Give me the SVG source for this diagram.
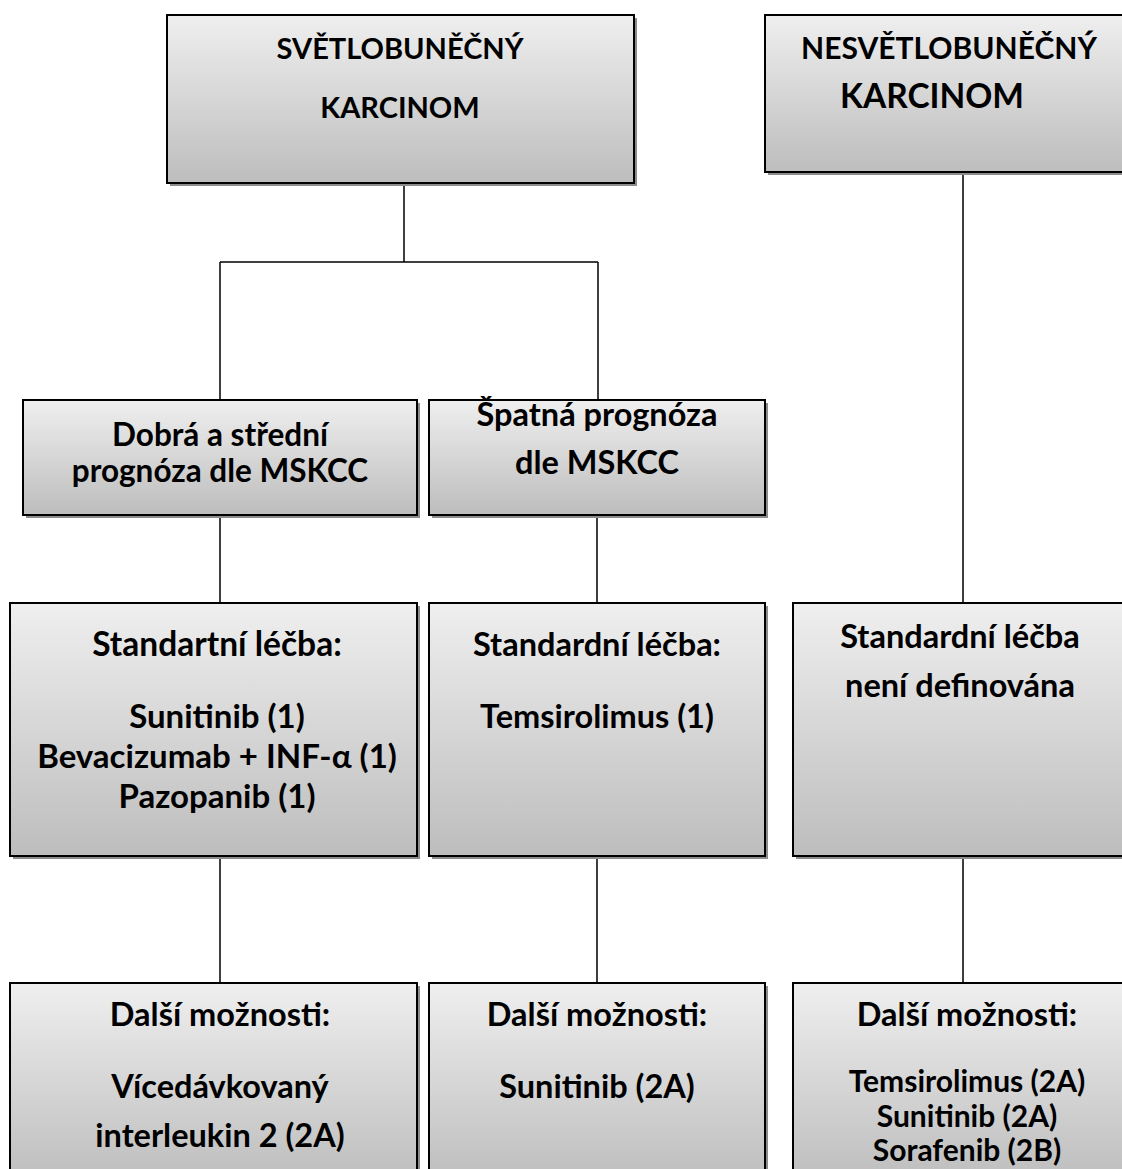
<svg xmlns="http://www.w3.org/2000/svg" width="1122" height="1169" viewBox="0 0 1122 1169">
<defs>
<linearGradient id="g" x1="0" y1="0" x2="0" y2="1">
<stop offset="0" stop-color="#efefef"/>
<stop offset="1" stop-color="#bdbdbd"/>
</linearGradient>
</defs>
<style>
.box{fill:url(#g);stroke:#000;stroke-width:2}
.sh{fill:#8c8c8c}
.t{font-family:Lato,"Noto Sans",sans-serif;font-weight:bold;fill:#000;text-anchor:middle;font-size:32.5px}
.c{stroke:#000;stroke-width:1.5;fill:none}
</style>
<rect width="1122" height="1169" fill="#fff"/>
<g id="connectors">
<path class="c" d="M404 183V262M220 262H598M220 262V400M598 262V400"/>
<path class="c" d="M220 515V603M597 515V603M963 172V603"/>
<path class="c" d="M220 856V983M597 856V983M963 856V983"/>
</g>
<g id="n1">
<rect class="sh" x="170" y="18" width="467" height="168"/>
<rect class="box" x="167" y="15" width="467" height="168"/>
<text class="t" x="400" y="59" style="font-size:29px">SVĚTLOBUNĚČNÝ</text>
<text class="t" x="400" y="118" style="font-size:29px">KARCINOM</text>
</g>
<g id="n2">
<rect class="sh" x="768" y="18" width="380" height="157"/>
<rect class="box" x="765" y="15" width="380" height="157"/>
<text class="t" x="949" y="59" style="font-size:30px">NESVĚTLOBUNĚČNÝ</text>
<text class="t" x="932" y="108" style="font-size:33.5px">KARCINOM</text>
</g>
<g id="n3">
<rect class="sh" x="26" y="403" width="394" height="115"/>
<rect class="box" x="23" y="400" width="394" height="115"/>
<text class="t" x="220" y="446" style="font-size:31.5px">Dobrá a střední</text>
<text class="t" x="220" y="482" style="font-size:31.5px">prognóza dle MSKCC</text>
</g>
<g id="n4">
<rect class="sh" x="432" y="403" width="336" height="115"/>
<rect class="box" x="429" y="400" width="336" height="115"/>
<text class="t" x="597" y="426">Špatná prognóza</text>
<text class="t" x="597" y="474">dle MSKCC</text>
</g>
<g id="n5">
<rect class="sh" x="13" y="606" width="407" height="253"/>
<rect class="box" x="10" y="603" width="407" height="253"/>
<text class="t" x="217" y="656" style="font-size:33.5px">Standartní léčba:</text>
<text class="t" x="217" y="728" style="font-size:33px">Sunitinib (1)</text>
<text class="t" x="217" y="768" style="font-size:33px">Bevacizumab + INF-α (1)</text>
<text class="t" x="217" y="808" style="font-size:33px">Pazopanib (1)</text>
</g>
<g id="n6">
<rect class="sh" x="432" y="606" width="336" height="253"/>
<rect class="box" x="429" y="603" width="336" height="253"/>
<text class="t" x="597" y="656">Standardní léčba:</text>
<text class="t" x="597" y="728">Temsirolimus (1)</text>
</g>
<g id="n7">
<rect class="sh" x="796" y="606" width="340" height="253"/>
<rect class="box" x="793" y="603" width="340" height="253"/>
<text class="t" x="960" y="648">Standardní léčba</text>
<text class="t" x="960" y="697">není definována</text>
</g>
<g id="n8">
<rect class="sh" x="13" y="986" width="407" height="200"/>
<rect class="box" x="10" y="983" width="407" height="200"/>
<text class="t" x="220" y="1026">Další možnosti:</text>
<text class="t" x="220" y="1098">Vícedávkovaný</text>
<text class="t" x="220" y="1147">interleukin 2 (2A)</text>
</g>
<g id="n9">
<rect class="sh" x="432" y="986" width="336" height="200"/>
<rect class="box" x="429" y="983" width="336" height="200"/>
<text class="t" x="597" y="1026">Další možnosti:</text>
<text class="t" x="597" y="1098">Sunitinib (2A)</text>
</g>
<g id="n10">
<rect class="sh" x="796" y="986" width="340" height="200"/>
<rect class="box" x="793" y="983" width="340" height="200"/>
<text class="t" x="967" y="1026">Další možnosti:</text>
<text class="t" x="967" y="1092" style="font-size:30px">Temsirolimus (2A)</text>
<text class="t" x="967" y="1127" style="font-size:30px">Sunitinib (2A)</text>
<text class="t" x="967" y="1161" style="font-size:30px">Sorafenib (2B)</text>
</g>
</svg>
